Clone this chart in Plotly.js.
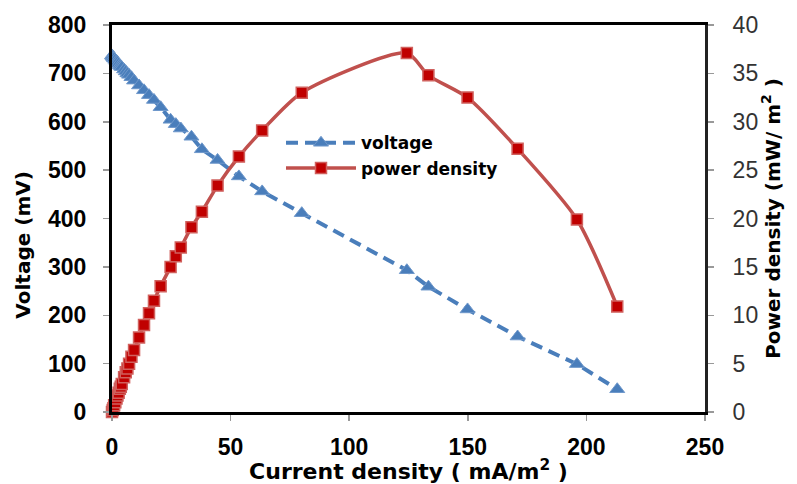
<!DOCTYPE html>
<html>
<head>
<meta charset="utf-8">
<script src="https://cdn.plot.ly/plotly-3.0.1.min.js"></script>
<style>html,body{margin:0;padding:0;background:#fff;}#chart{width:797px;height:484px;}</style>
</head>
<body>
<div id="chart"></div>
<script>
var current = [0, 0.3, 0.6, 0.9, 1.4, 1.9, 2.3, 2.8, 3.3, 3.7, 4.1, 5.1, 5.8, 6.5, 7.2, 8.2, 9.3, 11.4, 13.5, 15.6, 17.7, 20.5, 24.7, 26.9, 29.0, 33.5, 37.9, 44.5, 53.5, 63.3, 80.0, 124.3, 133.4, 149.9, 171.0, 196.0, 213.0];
var voltage = [737, 735, 733, 731, 728, 725, 723, 720, 717, 715, 713, 708, 704, 700, 697, 692, 685, 675, 665, 655, 645, 630, 604, 595, 586, 569, 543, 521, 487, 456, 411, 293, 259, 212, 156, 99, 47];
var power = [0, 0.2, 0.4, 0.7, 1.0, 1.4, 1.7, 2.0, 2.4, 2.6, 2.9, 3.6, 4.1, 4.5, 5.0, 5.7, 6.4, 7.7, 9.0, 10.2, 11.5, 13.0, 15.0, 16.1, 17.0, 19.1, 20.7, 23.4, 26.4, 29.1, 33.0, 37.1, 34.8, 32.5, 27.2, 19.9, 10.9];
var seriesNames = ['voltage', 'power density'];
var xTitle = 'Current density ( mA/m<sup>2</sup> )';
var yTitle = 'Voltage (mV)';
var y2Title = 'Power density (mW/ m<sup>2</sup> )';

var traces = [
  {
    x: current, y: voltage, name: seriesNames[0], type: 'scatter', mode: 'lines+markers',
    line: {color: '#4A7EBB', width: 4, dash: '12px,7px'},
    marker: {symbol: 'triangle-up', size: 13, color: '#4A7EBB', line: {color: '#6F98CB', width: 1}},
    cliponaxis: false
  },
  {
    x: current, y: power, name: seriesNames[1], type: 'scatter', mode: 'lines+markers', yaxis: 'y2',
    line: {color: '#C0504D', width: 3.5, shape: 'spline', smoothing: 0.7},
    marker: {symbol: 'square', size: 11, color: '#C00000', line: {color: '#D0605D', width: 1.5}},
    cliponaxis: false
  }
];

var tickBold = {family: 'Liberation Sans, Arial, sans-serif', size: 23, color: '#000', weight: 'bold'};
var layout = {
  width: 797, height: 484,
  margin: {l: 112, r: 92, t: 25, b: 72},
  paper_bgcolor: '#fff', plot_bgcolor: '#fff',
  showlegend: true,
  legend: {x: 0.285, y: 0.741, xanchor: 'left', yanchor: 'top', bgcolor: 'rgba(0,0,0,0)',
           font: {family: 'DejaVu Sans, sans-serif', size: 17, color: '#000', weight: 'bold'},
           itemwidth: 70, tracegroupgap: 0},
  xaxis: {
    range: [0, 250], dtick: 50, tick0: 0, showgrid: false, zeroline: false,
    showline: true, linecolor: '#000', linewidth: 3, mirror: true,
    ticks: 'outside', ticklen: 6, tickcolor: '#999', tickwidth: 1.5,
    tickfont: tickBold, ticklabelstandoff: 6,
    title: {text: xTitle, font: {family: 'DejaVu Sans, sans-serif', size: 22, color: '#000', weight: 'bold'}, standoff: 0}
  },
  yaxis: {
    range: [0, 800], dtick: 100, tick0: 0, showgrid: false, zeroline: false,
    showline: true, linecolor: '#000', linewidth: 3,
    ticks: 'outside', ticklen: 6, tickcolor: '#999', tickwidth: 1.5,
    tickfont: tickBold, ticklabelstandoff: 12
  },
  yaxis2: {
    range: [0, 40], dtick: 5, tick0: 0, overlaying: 'y', side: 'right', showgrid: false, zeroline: false,
    showline: true, linecolor: '#222', linewidth: 3,
    ticks: 'outside', ticklen: 6, tickcolor: '#999', tickwidth: 1.5,
    tickfont: {family: 'Liberation Sans, Arial, sans-serif', size: 23, color: '#333'}, ticklabelstandoff: 14,
    title: {text: y2Title, font: {family: 'DejaVu Sans, sans-serif', size: 20, color: '#000', weight: 'bold'}, standoff: 3}
  },
  annotations: [{
    text: yTitle, xref: 'paper', yref: 'paper', x: -0.15, y: 0.43, xanchor: 'center', yanchor: 'middle',
    textangle: -90, showarrow: false,
    font: {family: 'DejaVu Sans, sans-serif', size: 20, color: '#000', weight: 'bold'}
  }]
};

Plotly.newPlot('chart', traces, layout, {displayModeBar: false, staticPlot: true});
</script>
</body>
</html>
